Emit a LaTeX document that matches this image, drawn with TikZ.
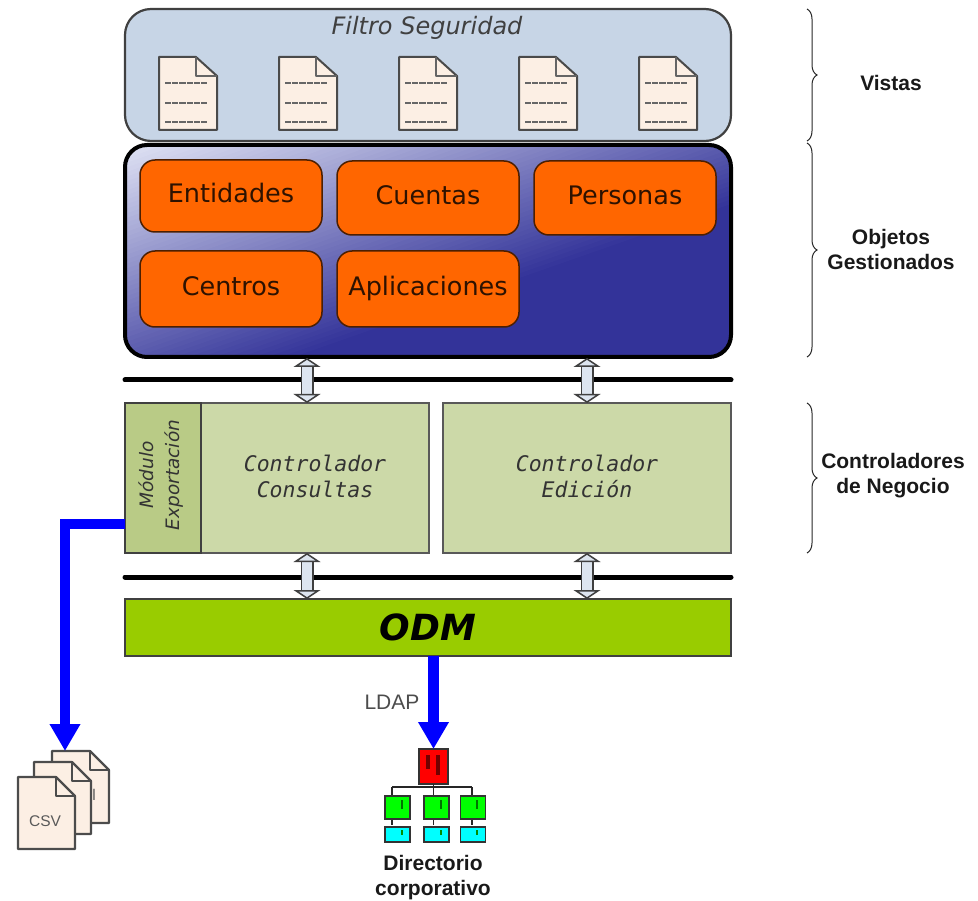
\documentclass[tikz,border=0pt]{standalone}
\usepackage{fontspec}
\setmainfont{Liberation Sans}
\newfontfamily\vfont{DejaVu Sans}
\newfontfamily\mfont{DejaVu Sans Mono}
\usetikzlibrary{arrows.meta,decorations.pathreplacing}
\definecolor{objdark}{HTML}{333399}
\definecolor{objlight}{HTML}{E2E5F5}
\definecolor{viewfill}{HTML}{C7D5E6}
\definecolor{docfill}{HTML}{FCEFE4}
\definecolor{docline}{HTML}{4A4A4A}
\definecolor{orangebox}{HTML}{FF6600}
\definecolor{ctrlfill}{HTML}{CCD9A8}
\definecolor{modfill}{HTML}{B9CB86}
\definecolor{odmfill}{HTML}{99CC00}
\definecolor{arrowfill}{HTML}{DDE5F0}
\definecolor{treecy}{HTML}{00FFFF}
\tikzset{
  boxat/.style n args={2}{rectangle,inner sep=0pt,outer sep=0pt,anchor=north west,minimum width=#1,minimum height=#2,align=center},
  viewsbox/.style={boxat={606pt}{132pt},draw=black!75,line width=2.2pt,rounded corners=26pt,fill=viewfill},
  objsbox/.style={boxat={606pt}{212pt},draw=black,line width=4pt,rounded corners=22pt},
  objitem/.style={draw=black!70!orangebox,line width=1.5pt,rounded corners=15pt,fill=orangebox,text=black!82!orangebox,font=\vfont\fontsize{25.5}{30}\selectfont,rectangle,inner sep=0pt,outer sep=0pt,anchor=north west,align=center,text height=19pt,text depth=5pt},
  ctrl/.style={draw=black!65,line width=1.5pt,fill=ctrlfill},
  ctrltext/.style={font=\mfont\itshape\fontsize{21.5}{26}\selectfont,text=black!80,align=center},
  busbar/.style={line width=5pt,line cap=round,black},
  bidir/.style={double=arrowfill,double distance=10pt,line width=1.5pt,draw=black!75,
    {Triangle[width=27pt,length=9pt,fill=arrowfill,color=black!75,line width=1.5pt]}-{Triangle[width=27pt,length=9pt,fill=arrowfill,color=black!75,line width=1.5pt]}},
  bluearrow/.style={draw=blue,line width=10.5pt,-{Triangle[width=29pt,length=27pt,fill=blue,color=blue]}},
  bracestyle/.style={decorate,decoration={brace,amplitude=10pt},draw=black!85,line width=1pt},
  sidelabel/.style={font=\bfseries\fontsize{21}{25}\selectfont,align=center,text=black!90},
  doc/.pic={
    \path[draw=docline,line width=2pt,fill=docfill,line join=round] (0,0) -- (37,0) -- (58,19) -- (58,73) -- (0,73) -- cycle;
    \draw[docline!85,line width=2.5pt,line join=round] (37,0) -- (37,19) -- (58,19);
    \foreach \ly in {26,46,65}{\draw[black!60,line width=2pt,dash pattern=on 6.2pt off 1pt] (6,\ly) -- (49,\ly);}
  },
  filedoc/.pic={
    \path[draw=black!70,line width=2.2pt,fill=docfill,line join=round] (0,0) -- (38,0) -- (57,19) -- (57,72) -- (0,72) -- cycle;
    \draw[black!70,line width=2.2pt,line join=round] (38,0) -- (38,19) -- (57,19);
  },
  treered/.style={draw=black!80,line width=1.6pt,fill=red,rectangle,inner sep=0pt,outer sep=0pt,minimum width=29pt,minimum height=35pt},
  treegreen/.style={draw=black!80,line width=1.6pt,fill=green,rectangle,inner sep=0pt,outer sep=0pt,minimum width=25pt,minimum height=23pt},
  treecyan/.style={draw=black!80,line width=1.6pt,fill=treecy,rectangle,inner sep=0pt,outer sep=0pt,minimum width=25pt,minimum height=15pt},
  treeline/.style={draw=black!85,line width=1.4pt},
}
\begin{document}
\begin{tikzpicture}[x=1pt,y=-1pt]
\useasboundingbox (0,0) rectangle (978,901);
% views
\node[viewsbox] (views) at (125,9) {};
\node[font=\vfont\itshape\fontsize{24}{28}\selectfont,text=black!75] (filtro) at (427,28) {Filtro Seguridad};
\foreach \px in {159,279,399,519,639}{\pic at (\px,57) {doc};}
% managed objects: diagonal gradient from the top left corner
\begin{scope}
  \clip[rounded corners=22pt] (125,145) rectangle (731,357);
  \fill[objdark] (125,145) rectangle (731,357);
  \foreach \k in {60,59,...,1}{
    \pgfmathsetmacro\tval{\k/60*0.65*2}
    \pgfmathsetmacro\gx{125+606*\tval}
    \pgfmathsetmacro\gy{145+212*\tval}
    \pgfmathsetmacro\pp{100-\k/60*100}
    \fill[objlight!\pp!objdark] (125,145) -- (\gx,145) -- (125,\gy) -- cycle;
  }
\end{scope}
\node[objsbox] (objs) at (125,145) {};
\node[objitem,minimum width=182pt,minimum height=72pt] (ent) at (140,160) {Entidades};
\node[objitem,minimum width=182pt,minimum height=74pt] (cue) at (337,161) {Cuentas};
\node[objitem,minimum width=182pt,minimum height=74pt] (per) at (534,161) {Personas};
\node[objitem,minimum width=182pt,minimum height=76pt] (cen) at (140,251) {Centros};
\node[objitem,minimum width=182pt,minimum height=76pt] (apl) at (337,251) {Aplicaciones};
% bars
\coordinate (b1l) at (125,380); \coordinate (b1r) at (731,380);
\coordinate (b2l) at (125,577); \coordinate (b2r) at (731,577);
\draw[busbar] (b1l) -- (b1r);
\draw[busbar] (b2l) -- (b2r);
% controllers
\node[ctrl,boxat={304pt}{150pt}] (cons) at (125,403) {};
\node[draw=black!75,line width=1.5pt,fill=modfill,boxat={76pt}{150pt}] (mod) at (125,403) {};
\node[font=\vfont\itshape\fontsize{18.5}{26}\selectfont,text=black!80,rotate=90,align=center] (modt) at (161,475) {Módulo\\Exportación};
\node[ctrltext] (const) at (315,476) {Controlador\\Consultas};
\node[ctrl,boxat={288pt}{150pt}] (edi) at (443,403) {};
\node[ctrltext] (edit) at (587,476) {Controlador\\Edición};
% ODM
\node[boxat={606pt}{57pt},draw=black!75,line width=1.5pt,fill=odmfill,font=\vfont\bfseries\itshape\fontsize{36}{40}\selectfont] (odm) at (125,599) {ODM};
% bidirectional arrows
\coordinate (a1) at (307,0); \coordinate (a2) at (587,0);
\draw[bidir] (objs.south -| a1) ++(0,1) -- (cons.north -| a1);
\draw[bidir] (objs.south -| a2) ++(0,1) -- (edi.north -| a2);
\draw[bidir] (cons.south -| a1) -- (odm.north -| a1);
\draw[bidir] (edi.south -| a2) -- (odm.north -| a2);
% braces
\draw[bracestyle] (807,9) -- (807,141);
\draw[bracestyle] (807,143) -- (807,357);
\draw[bracestyle] (807,403) -- (807,553);
\node[sidelabel] (lv) at (891,83) {Vistas};
\node[sidelabel] (lo) at (891,249) {Objetos\\Gestionados};
\node[sidelabel] (lc) at (893,476) {Controladores\\de Negocio};
% export files
\pic at (52,751) {filedoc};
\node[text=black!65,font=\fontsize{15.5}{18}\selectfont] (xl) at (94,795) {l};
\pic at (34,762) {filedoc};
\pic at (18,777) {filedoc};
\node[text=black!65,font=\fontsize{15.5}{18}\selectfont] (csv) at (45,821) {CSV};
\coordinate (csvin) at (65,751);
\coordinate (modout) at (125,524);
\draw[bluearrow] (modout) -| (csvin);
% directory tree
\node[treered] (r) at (433.5,766.5) {};
\coordinate (tj) at (433.5,787);
\draw[treeline] (r.south) -- (tj);
\coordinate (tl) at (392,787); \coordinate (tr) at (472,787);
\draw[treeline] (tl) -- (tr);
\draw[treeline] (tl) -- (392,825);
\draw[treeline] (433.5,787) -- (433.5,825);
\draw[treeline] (472,787) -- (472,825);
\node[treegreen] (g1) at (397.5,807.5) {};
\node[treegreen] (g2) at (436.5,807.5) {};
\node[treegreen] (g3) at (473,807.5) {};
\node[treecyan] (c1) at (397.5,834.5) {};
\node[treecyan] (c2) at (436.5,834.5) {};
\node[treecyan] (c3) at (473,834.5) {};
\draw[red!45!black,line width=3.5pt] (428,755) -- (428,769);
\draw[red!45!black,line width=3.5pt] (438,755) -- (438,775);
\foreach \mx in {402,441,477}{
  \draw[green!45!black,line width=2.8pt] (\mx,800) -- (\mx,809);
  \draw[green!55!black,line width=2.8pt] (\mx,830) -- (\mx,835);
}
\coordinate (ldapin) at (433.5,749);
\draw[bluearrow] (odm.south -| ldapin) -- (ldapin);
\node[text=black!70,font=\fontsize{21}{25}\selectfont] (ldap) at (392,702) {LDAP};
\node[sidelabel] (dir) at (433,878) {Directorio\\corporativo};
\end{tikzpicture}
\end{document}
